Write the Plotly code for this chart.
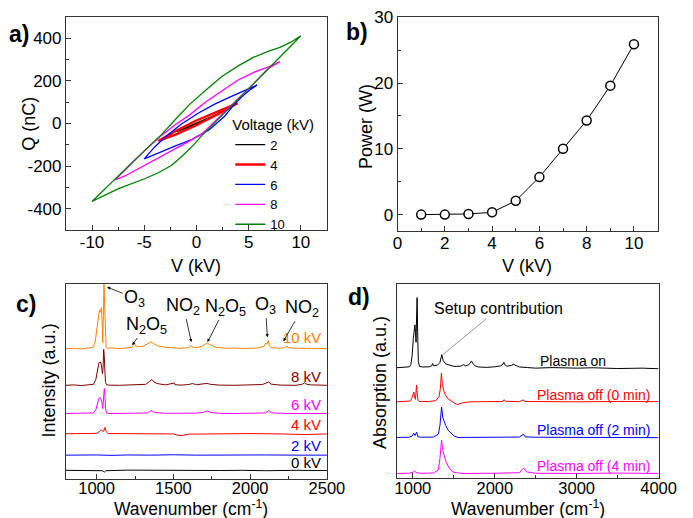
import plotly.graph_objects as go

W, H = 693, 518
FONT = "Liberation Sans, Arial, Helvetica, sans-serif"

# ---------------- Panel a: Q-V loops (V in kV, Q in nC) ----------------
loop_names = ["2", "4", "6", "8", "10"]
loop_colors = ["#000000", "#ff0000", "#0000ff", "#ff00ff", "#008000"]
v_2kv = [-1.9, 0.0, 1.9, 0.0, -1.9]
q_2kv = [-38, 3, 42, -3, -38]
v_4kv = [-3.65, -2.0, 0.0, 2.0, 3.95, 2.0, 0.0, -2.0, -3.65]
q_4kv = [-82, -35, 14, 55, 95, 42, -8, -52, -82]
v_6kv = [-5.0, -4.0, -2.9, -1.5, 0.2, 1.8, 3.3, 4.6, 5.8,
         5.2, 4.4, 3.6, 2.7, 1.2, -0.4, -2.0, -3.5, -4.3, -5.0]
q_6kv = [-166, -110, -60, -5, 49, 92, 126, 155, 180,
         160, 128, 88, 34, -30, -74, -105, -135, -152, -166]
v_8kv = [-7.8, -6.8, -5.8, -4.6, -3.5, -2.0, -0.7, 0.85, 2.5, 3.95, 5.5, 6.9, 8.0,
         7.0, 5.5, 4.4, 3.3, 2.0, 0.5, -1.2, -2.8, -4.3, -5.8, -6.8, -7.8]
q_8kv = [-265, -215, -168, -112, -62, -5, 38, 100, 155, 203, 240, 265, 290,
         262, 188, 135, 80, 20, -50, -97, -140, -181, -220, -245, -265]
v_10kv = [-10.0, -8.8, -7.67, -5.8, -4.5, -3.3, -2.0, -0.6, 1.0, 2.4, 4.0, 5.5, 7.0, 8.0, 9.0, 10.0,
          9.0, 8.0, 7.05, 5.5, 3.3, 0.5, -0.2, -1.3, -2.4, -3.6, -4.9, -6.2, -7.4, -8.7, -10.0]
q_10kv = [-366, -310, -258, -166, -105, -50, 20, 92, 160, 219, 270, 311, 340, 357, 380, 411,
          361, 313, 265, 188, 80, -58, -97, -150, -197, -230, -258, -280, -304, -335, -366]
loops_v = [v_2kv, v_4kv, v_6kv, v_8kv, v_10kv]
loops_q = [q_2kv, q_4kv, q_6kv, q_8kv, q_10kv]
loop_widths = [1.2, 2.4, 1.3, 1.3, 1.3]
a_xticks = [-10, -5, 0, 5, 10]
a_xticktext = ["-10", "-5", "0", "5", "10"]
a_yticks = [-400, -200, 0, 200, 400]
a_yticktext = ["-400", "-200", "0", "200", "400"]

# ---------------- Panel b: power ----------------
v_b = [1, 2, 3, 4, 5, 6, 7, 8, 9, 10]
p_b = [0.0, 0.0, 0.1, 0.35, 2.1, 5.7, 10.0, 14.3, 19.6, 25.9]
b_xticks = [0, 2, 4, 6, 8, 10]
b_yticks = [0, 10, 20, 30]

# ---------------- Panel c: spectra vs voltage ----------------
c_names = ["0 kV", "2 kV", "4 kV", "6 kV", "8 kV", "10 kV"]
c_colors = ["#000000", "#0000ff", "#ff0000", "#ff00ff", "#800000", "#ff8000"]
wn_0kv = [800, 900, 1000, 1040, 1050, 1060, 1200, 1350, 1500, 1650, 1800, 1950, 2100, 2300, 2500]
in_0kv = [4.3, 4.1, 4.2, 4.1, 3.4, 4.1, 4.4, 4.3, 4.2, 4.4, 4.2, 4.3, 4.1, 4.3, 4.2]
wn_2kv = [800, 900, 1000, 1100, 1200, 1350, 1500, 1650, 1800, 1950, 2100, 2300, 2500]
in_2kv = [12.1, 12.3, 12.2, 12.0, 12.2, 12.1, 12.3, 12.1, 12.2, 12.0, 12.2, 12.1, 12.1]
wn_4kv = [800, 900, 1000, 1020, 1030, 1040, 1045, 1055, 1062, 1075, 1200, 1350, 1500, 1530, 1560,
          1600, 1800, 2000, 2200, 2350, 2500]
in_4kv = [23.1, 23.2, 23.3, 24.3, 25.0, 24.5, 24.3, 26.4, 24.2, 23.2, 23.1, 23.3, 23.0, 22.3, 22.2,
          22.9, 23.1, 23.2, 23.0, 22.7, 23.0]
wn_6kv = [800, 900, 980, 995, 1005, 1015, 1025, 1033, 1040, 1045, 1050, 1054, 1058, 1065, 1080,
          1200, 1330, 1355, 1380, 1450, 1550, 1650, 1700, 1720, 1745, 1800, 1900, 2000, 2100,
          2120, 2140, 2250, 2400, 2500]
in_6kv = [33.5, 33.6, 33.8, 35.5, 39.0, 41.3, 41.6, 40.0, 36.0, 40.0, 46.3, 43.0, 36.0, 33.8, 33.5,
          33.6, 33.8, 35.0, 34.0, 33.6, 33.5, 33.7, 34.2, 34.8, 34.0, 33.6, 33.5, 33.6, 33.8,
          35.0, 33.8, 33.5, 33.6, 33.5]
wn_8kv = [800, 850, 900, 950, 980, 995, 1005, 1015, 1025, 1032, 1038, 1042, 1046, 1050, 1054, 1058,
          1065, 1080, 1150, 1250, 1320, 1345, 1360, 1375, 1400, 1450, 1505, 1510, 1550, 1600, 1625,
          1650, 1700, 1720, 1740, 1800, 1900, 2000, 2080, 2110, 2120, 2135, 2200, 2300, 2340, 2355,
          2370, 2400, 2450, 2500]
in_8kv = [48.0, 48.2, 47.9, 48.1, 48.5, 51.0, 56.0, 59.5, 60.0, 58.0, 54.0, 57.0, 66.5, 63.0, 55.0, 49.5,
          48.3, 48.1, 48.0, 48.2, 48.5, 50.0, 51.0, 49.6, 48.8, 48.2, 49.2, 48.3, 48.1, 48.4, 48.9,
          48.3, 48.6, 49.0, 48.5, 48.1, 48.0, 48.2, 48.4, 49.4, 49.8, 48.6, 48.1, 48.0, 48.6, 49.3,
          48.5, 48.2, 48.0, 48.0]
wn_10kv = [800, 850, 900, 950, 975, 990, 1000, 1010, 1018, 1025, 1031, 1036, 1040, 1044, 1048, 1052,
           1056, 1062, 1070, 1100, 1150, 1200, 1230, 1245, 1260, 1300, 1340, 1355, 1370, 1400, 1450,
           1500, 1550, 1600, 1615, 1625, 1640, 1680, 1700, 1720, 1740, 1780, 1850, 1900, 1950, 2000,
           2050, 2090, 2100, 2110, 2118, 2125, 2135, 2160, 2200, 2230, 2240, 2250, 2300, 2350, 2400,
           2450, 2500]
in_10kv = [66.8, 67.0, 66.7, 67.0, 67.5, 70.0, 77.0, 84.0, 86.5, 85.5, 88.0, 81.0, 70.0, 84.0, 100.0, 90.0,
           74.0, 67.5, 67.0, 67.2, 66.9, 67.3, 67.5, 69.5, 67.8, 68.0, 69.5, 70.3, 69.5, 68.2, 67.5,
           67.2, 67.0, 67.4, 68.3, 67.8, 67.3, 67.8, 68.8, 69.8, 68.8, 67.5, 67.0, 67.2, 66.9, 67.1,
           67.2, 68.0, 69.5, 69.2, 71.0, 68.5, 67.4, 67.2, 67.0, 67.6, 68.2, 67.3, 67.0, 67.1, 66.8,
           66.9, 66.8]
c_wn = [wn_0kv, wn_2kv, wn_4kv, wn_6kv, wn_8kv, wn_10kv]
c_in = [in_0kv, in_2kv, in_4kv, in_6kv, in_8kv, in_10kv]
c_xticks = [1000, 1500, 2000, 2500]

# ---------------- Panel d: absorption spectra ----------------
d_names = ["Plasma on", "Plasma off (0 min)", "Plasma off (2 min)", "Plasma off (4 min)"]
d_colors = ["#000000", "#ff0000", "#0000ff", "#ff00ff"]
wn_on = [800, 900, 960, 975, 990, 1005, 1015, 1024, 1032, 1038, 1044, 1051, 1058, 1066, 1080, 1120,
         1200, 1230, 1241, 1255, 1300, 1330, 1352, 1370, 1400, 1450, 1500, 1580, 1620, 1640, 1680,
         1700, 1715, 1730, 1760, 1800, 1900, 2000, 2070, 2100, 2111, 2120, 2150, 2200, 2230, 2260,
         2300, 2400, 2500, 2700, 3000, 3200, 3500, 3800, 4000]
ab_on = [56.8, 57.0, 57.3, 58.5, 63.0, 72.0, 77.0, 79.0, 75.0, 70.0, 82.0, 93.0, 75.0, 60.0, 57.5, 57.2,
         57.3, 57.8, 59.0, 57.8, 58.2, 59.5, 63.6, 60.5, 58.8, 58.0, 57.5, 57.6, 58.4, 57.8, 58.3,
         59.3, 60.3, 59.0, 57.8, 57.2, 57.0, 57.3, 57.8, 58.6, 59.6, 58.4, 57.6, 58.0, 58.6, 57.9,
         57.2, 56.9, 56.6, 56.9, 56.6, 56.8, 56.4, 56.6, 56.3]
wn_off0 = [800, 900, 970, 985, 1000, 1012, 1022, 1030, 1036, 1044, 1052, 1062, 1075, 1100, 1200, 1280,
           1320, 1335, 1348, 1360, 1380, 1400, 1430, 1460, 1500, 1540, 1600, 1700, 1900, 2100, 2111,
           2130, 2300, 2350, 2360, 2500, 3000, 3500, 4000]
ab_off0 = [39.2, 39.4, 39.6, 41.0, 43.5, 44.2, 41.5, 40.5, 43.0, 47.9, 44.0, 40.0, 39.5, 39.3, 39.4, 39.8,
           42.0, 46.0, 54.0, 48.0, 44.5, 42.5, 40.8, 39.8, 38.7, 37.8, 38.6, 39.2, 39.3, 39.4, 40.3,
           39.5, 39.3, 40.2, 39.4, 39.3, 39.2, 39.4, 39.3]
wn_off2 = [800, 950, 990, 1010, 1025, 1035, 1045, 1060, 1100, 1250, 1310, 1330, 1350, 1365, 1385, 1400,
           1430, 1460, 1500, 1550, 1700, 2000, 2300, 2350, 2370, 2500, 3000, 3500, 4000]
ab_off2 = [20.8, 20.9, 21.5, 23.0, 21.8, 22.5, 23.5, 21.2, 20.9, 21.0, 22.5, 27.0, 36.5, 31.0, 28.0, 27.0,
           24.5, 23.0, 21.6, 20.8, 20.9, 20.8, 21.0, 22.5, 21.1, 20.9, 20.8, 20.9, 20.7]
wn_off4 = [800, 950, 1000, 1020, 1040, 1100, 1250, 1310, 1330, 1350, 1365, 1385, 1400, 1430, 1460, 1500,
           1600, 2000, 2300, 2340, 2360, 2390, 2500, 3000, 3500, 4000]
ab_off4 = [2.2, 2.3, 2.8, 3.5, 2.6, 2.3, 2.4, 4.0, 10.0, 19.5, 14.0, 10.5, 8.7, 6.0, 4.0, 2.8,
           2.2, 2.3, 2.6, 4.5, 4.8, 3.0, 2.3, 2.2, 2.4, 2.2]
d_wn = [wn_on, wn_off0, wn_off2, wn_off4]
d_ab = [ab_on, ab_off0, ab_off2, ab_off4]
d_xticks = [1000, 2000, 3000, 4000]


def px(x):
    return x / W


def py(y):
    return 1 - y / H


fig = go.Figure()

for name, col, vv, qq, lw in zip(loop_names, loop_colors, loops_v, loops_q, loop_widths):
    fig.add_trace(go.Scatter(x=vv, y=qq, mode="lines", name=name,
                             line=dict(color=col, width=lw), xaxis="x", yaxis="y"))

fig.add_trace(go.Scatter(x=v_b, y=p_b, mode="lines+markers", showlegend=False,
                         line=dict(color="black", width=1),
                         marker=dict(symbol="circle", size=9, color="white",
                                     line=dict(color="black", width=1.5)),
                         xaxis="x2", yaxis="y2"))

for name, col, xx, yy in zip(c_names, c_colors, c_wn, c_in):
    fig.add_trace(go.Scatter(x=xx, y=yy, mode="lines", showlegend=False, name=name,
                             line=dict(color=col, width=1), xaxis="x3", yaxis="y3"))

for name, col, xx, yy in zip(d_names, d_colors, d_wn, d_ab):
    fig.add_trace(go.Scatter(x=xx, y=yy, mode="lines", showlegend=False, name=name,
                             line=dict(color=col, width=1), xaxis="x4", yaxis="y4"))

AX = dict(showline=True, mirror=True, linecolor="#333333", linewidth=1, ticks="inside",
          ticklen=5, tickcolor="#333333", showgrid=False, zeroline=False,
          ticklabeloverflow="allow",
          tickfont=dict(size=17, color="black", family=FONT))
AXB = dict(AX, tickfont=dict(size=16.5, color="black", family=FONT))
MINOR = dict(ticks="inside", ticklen=3, tickcolor="#333333", showgrid=False)

fig.update_layout(
    width=W, height=H, margin=dict(l=0, r=0, t=0, b=0),
    paper_bgcolor="white", plot_bgcolor="white",
    font=dict(family=FONT, color="black"),
    xaxis=dict(AX, domain=[px(63), px(333)], range=[-12.5, 12.5], anchor="y",
               tickmode="array", tickvals=a_xticks, ticktext=a_xticktext, ticklabelstandoff=-3,
               minor=dict(MINOR, tickmode="linear", tick0=0, dtick=2.5)),
    yaxis=dict(AX, domain=[py(225), py(8)], range=[-500, 500], anchor="x",
               tickmode="array", tickvals=a_yticks, ticktext=a_yticktext,
               minor=dict(MINOR, tickmode="linear", tick0=0, dtick=100)),
    xaxis2=dict(AX, domain=[px(406), px(675)], range=[0, 11], anchor="y2",
                tickmode="array", tickvals=b_xticks, ticklabelstandoff=-3,
                minor=dict(MINOR, tickmode="linear", tick0=0, dtick=1)),
    yaxis2=dict(AX, domain=[py(226), py(8)], range=[-2.5, 30.05], anchor="x2",
                tickmode="array", tickvals=b_yticks,
                minor=dict(MINOR, tickmode="linear", tick0=0, dtick=5)),
    xaxis3=dict(AXB, domain=[px(63), px(333)], range=[800, 2500], anchor="y3",
                tickmode="array", tickvals=c_xticks, ticklabelstandoff=-5,
                minor=dict(MINOR, tickmode="linear", tick0=0, dtick=250)),
    yaxis3=dict(AX, domain=[py(478), py(280)], range=[0, 100], anchor="x3",
                ticks="", showticklabels=False),
    xaxis4=dict(AXB, domain=[px(405), px(676)], range=[800, 4000], anchor="y4",
                tickmode="array", tickvals=d_xticks, ticklabelstandoff=-5,
                minor=dict(MINOR, tickmode="linear", tick0=0, dtick=500)),
    yaxis4=dict(AX, domain=[py(477), py(280)], range=[0, 100], anchor="x4",
                ticks="", showticklabels=False),
    showlegend=True,
    legend=dict(x=px(233), y=py(103), xanchor="left", yanchor="top",
                bgcolor="rgba(0,0,0,0)", borderwidth=0,
                font=dict(size=13, color="black", family=FONT),
                title=dict(text="Voltage (kV)", font=dict(size=15, color="black", family=FONT)),
                itemwidth=30, tracegroupgap=0),
)

ann = []


def txt(text, x, y, size=18, color="black", angle=0, xanchor="center", bold=False):
    if bold:
        text = "<b>" + text + "</b>"
    ann.append(dict(text=text, x=px(x), y=py(y), xref="paper", yref="paper",
                    showarrow=False, xanchor=xanchor, yanchor="middle", textangle=angle,
                    font=dict(size=size, color=color, family=FONT)))


# panel letters
txt("a)", 14, 25, size=23, bold=True)
txt("b)", 364, 23, size=23, bold=True)
txt("c)", 22, 300, size=23, bold=True)
txt("d)", 366, 293, size=23, bold=True)

# axis titles
txt("Q (nC)", 24.5, 117, angle=-90)
txt("V (kV)", 198, 262)
txt("Power (W)", 373.5, 120, angle=-90)
txt("V (kV)", 540, 262)
txt("Intensity (a.u.)", 45.5, 378, angle=-90)
txt("Wavenumber (cm<sup>-1</sup>)", 192, 508, size=17.5)
txt("Absorption (a.u.)", 388.5, 380, angle=-90)
txt("Wavenumber (cm<sup>-1</sup>)", 541, 508, size=17.5)

# panel c series labels
for name, col, y in zip(c_names, c_colors, [462, 444, 423, 403, 374, 334]):
    txt(name, 329, y, size=15, color=col, xanchor="right")

# panel d series labels
txt("Plasma on", 588, 358, size=14, color="#000000")
for name, col, y in zip(d_names[1:], d_colors[1:], [393, 428, 465]):
    txt(name, 669, y, size=14, color=col, xanchor="right")

# panel c species labels with arrows: (text, tip wavenumber, tip value, text dx, text dy in px)
species = [("O<sub>3</sub>", 1068, 98.5, 27.5, 11),
           ("N<sub>2</sub>O<sub>5</sub>", 1232, 68.7, 14.5, -20),
           ("NO<sub>2</sub>", 1617, 70.2, -8, -36),
           ("N<sub>2</sub>O<sub>5</sub>", 1722, 70.2, 18, -35),
           ("O<sub>3</sub>", 2112, 72.7, -2, -32),
           ("NO<sub>2</sub>", 2217, 70.7, 19, -33)]
for t, xa, ya, ax, ay in species:
    ann.append(dict(text=t, x=xa, y=ya, xref="x3", yref="y3", ax=ax, ay=ay,
                    showarrow=True, arrowhead=2, arrowsize=0.8, arrowwidth=0.8,
                    arrowcolor="black", font=dict(size=18, color="black", family=FONT)))
ann.append(dict(text="Setup contribution", x=1362, y=63.5, xref="x4", yref="y4", ax=56, ay=-46,
                showarrow=True, arrowhead=0, arrowwidth=0.8, arrowcolor="#777777",
                font=dict(size=16, color="black", family=FONT)))

fig.update_layout(annotations=ann)
fig.write_html("out.html", config={"displayModeBar": False},
               post_script="document.body.style.margin='0';document.body.style.overflow='hidden';")
